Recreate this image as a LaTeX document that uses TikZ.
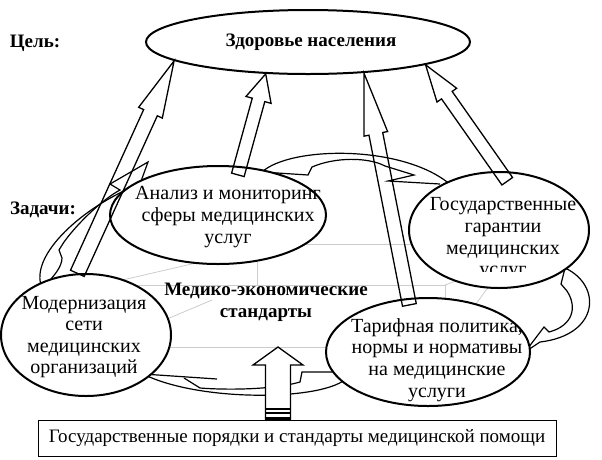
\documentclass[tikz,border=0pt]{standalone}
\usepackage{fontspec}
\setmainfont{Liberation Serif}
\usetikzlibrary{shapes.geometric,calc}

% hollow block arrow: [style]{from}{to}{half shaft}{half head}{head length}
\newcommand{\blockarrow}[6][]{%
  \coordinate (hb) at ($(#3)!#6!(#2)$);
  \draw[arrowline,#1] ($(#2)!#4!90:(#3)$) -- ($(hb)!#4!90:(#3)$) -- ($(hb)!#5!90:(#3)$) -- (#3)
    -- ($(hb)!#5!-90:(#3)$) -- ($(hb)!#4!-90:(#3)$) -- ($(#2)!#4!-90:(#3)$) -- cycle;}

\begin{document}
\begin{tikzpicture}[x=1pt,y=-1pt,
    every node/.style={font=\fontsize{19}{21.6}\selectfont},
    task/.style={ellipse,draw,line width=2pt,fill=white,inner sep=0pt},
    tasktext/.style={align=center,inner sep=0pt,font=\fontsize{20}{21.6}\selectfont},
    bold/.style={font=\fontsize{19}{21.6}\selectfont\bfseries},
    arrowline/.style={line width=1.3pt,line join=miter},
    cycline/.style={line width=1.2pt},
    boxline/.style={gray!40,line width=0.8pt}]

\useasboundingbox (0,0) rectangle (602,459);

% grey box behind the tasks
\draw[boxline] (250,244) -- (450,244);
\draw[boxline] (257,244) -- (257,285);
\draw[boxline] (125,285) -- (445,285) -- (445,302);
\draw[boxline] (445,285) -- (472,275);
\draw[boxline] (470,312) -- (495,278);
\draw[boxline] (118,281) -- (196,263);
\draw[boxline] (160,322) -- (212,300);
\draw[boxline] (150,347) -- (340,347);

% curved arrows round the tasks
\draw[cycline] (262,172) .. controls (290,146) and (405,144) .. (452,186);
\draw[cycline] (262,172) -- (308,175) -- (312,167) .. controls (335,157) and (368,157) .. (385,166)
  -- (414,175) -- (388,181) -- (440,184);
\draw[cycline] (565,268) .. controls (602,285) and (600,335) .. (540,342) -- (525,352);
\draw[cycline] (565,268) -- (561,284) -- (567,291) .. controls (578,308) and (572,326) .. (549,332)
  -- (544,327) -- (525,352);
\draw[cycline] (350,372) .. controls (346,400) and (205,405) .. (143,374);
\draw[cycline] (352,372) -- (302,372) -- (300,382) .. controls (272,390) and (225,390) .. (200,388) -- (184,378);
\draw[cycline] (143,374) -- (217,379);
\draw[cycline] (42,288) .. controls (28,255) and (85,205) .. (140,184);
\draw[cycline] (42,288) .. controls (55,276) and (62,266) .. (62,258) -- (59,250) -- (64,242)
  .. controls (80,220) and (105,198) .. (120,190) -- (110,184) -- (148,162) -- (140,184);

% goal and tasks
\node[task,minimum width=324,minimum height=64] (goal) at (308,42) {};
\node[bold] (goaltext) at (311,42) {Здоровье населения};
\node[task,minimum width=216,minimum height=98] (e1) at (218,215) {};
\node[task,minimum width=180,minimum height=116] (e2) at (499,230) {};
\node[task,minimum width=170,minimum height=122] (e3) at (86,335) {};
\node[task,minimum width=204,minimum height=108] (e4) at (428,352) {};

\node[tasktext] (t1) at (228,217) {Анализ и мониторинг\\сферы медицинских\\услуг};
\begin{scope}
  \clip (400,150) rectangle (602,271);
  \node[tasktext] (t2) at (503,239) {Государственные\\гарантии\\медицинских\\услуг};
\end{scope}
\node[tasktext] (t3) at (84,337) {Модернизация\\сети\\медицинских\\организаций};
\node[tasktext] (t4) at (437,360) {Тарифная политика,\\нормы и нормативы\\на медицинские\\услуги};

\node[bold,align=center] (mes) at (266,302) {Медико-экономические\\стандарты};
\node[bold] (aim) at (35,43) {Цель:};
\node[bold] (tasks) at (43,210) {Задачи:};
\node[draw,line width=1pt,minimum width=518,minimum height=36,inner sep=0pt] (box) at (297,438)
  {Государственные порядки и стандарты медицинской помощи};

% arrows up to the goal
\coordinate (b2) at ([yshift=-9pt]e1.68);
\coordinate (b3) at ([yshift=-7pt]e4.109);
\coordinate (b4) at ([yshift=-10pt]e2.82);
\blockarrow{e3.98}{goal.188}{7.5pt}{13pt}{57pt}
\blockarrow{b2}{goal.217}{6.5pt}{13pt}{27pt}
\blockarrow{b3}{goal.331}{7pt}{12pt}{62pt}
\blockarrow{b4}{goal.349}{6.5pt}{12pt}{37pt}

% striped arrow from the box
\coordinate (bb) at ([xshift=-19pt]box.north);
\coordinate (up) at (278,347);
\blockarrow[fill=white]{bb}{up}{12.5pt}{25pt}{18pt}
\foreach \d in {2,6.5,11}
  \draw[line width=2pt] ($(bb)+(-12.5,-\d)$) -- ($(bb)+(12.5,-\d)$);
\end{tikzpicture}
\end{document}
